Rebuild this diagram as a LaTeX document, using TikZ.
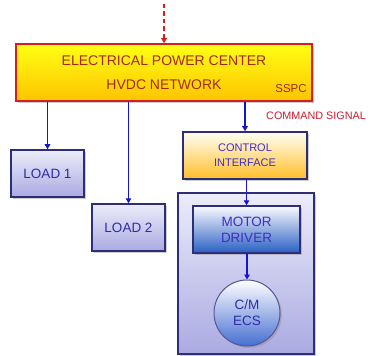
\documentclass[tikz,border=0pt]{standalone}
\usepackage{fontspec}
\setmainfont{Liberation Sans}
\usepackage{xcolor}
\usetikzlibrary{positioning,arrows.meta,shadows}

\definecolor{wireblue}{RGB}{20,20,210}
\definecolor{framenavy}{RGB}{45,45,120}
\definecolor{epcred}{RGB}{215,30,30}
\definecolor{epctext}{RGB}{165,40,30}
\definecolor{cmdred}{RGB}{200,30,50}
\definecolor{loadtext}{RGB}{45,45,165}
\definecolor{ctrltext}{RGB}{65,45,195}

\begin{document}
\begin{tikzpicture}[x=1pt, y=-1pt, every node/.style={align=center, inner sep=0pt},
  shade/.style={drop shadow={opacity=0.4, shadow xshift=1.8pt, shadow yshift=-1.8pt}},
  box/.style={draw=framenavy, line width=1.5pt, shade},
  lavender/.style={top color={rgb,255:red,236;green,236;blue,250}, bottom color={rgb,255:red,170;green,170;blue,226}},
  arr/.style={-{Triangle[length=5pt, width=5.5pt]}, wireblue, line width=1.4pt}]
\useasboundingbox (0,0) rectangle (371,355);
% power center
\node[draw=epcred, line width=1.5pt, shade, top color={rgb,255:red,255;green,255;blue,20}, bottom color={rgb,255:red,255;green,196;blue,0},
  minimum width=296pt, minimum height=57pt, font=\fontsize{14}{24}\selectfont, text=epctext] (epc) at (164,72.5)
  {ELECTRICAL POWER CENTER\\HVDC NETWORK};
\node[font=\fontsize{11.5}{12}\selectfont, text=epctext] (sspc) at (291,89) {SSPC};
\coordinate (src) at (164,4);
\draw[-{Triangle[length=5pt, width=5.5pt]}, epcred, line width=1.4pt, dash pattern=on 4.5pt off 3pt] (src) -- (epc.north);
% loads
\node[box, lavender, minimum width=73pt, minimum height=47pt, font=\fontsize{13.5}{14}\selectfont, text=loadtext] (load1) at (47.5,173.5) {LOAD 1};
\node[box, lavender, minimum width=73pt, minimum height=47pt, font=\fontsize{13.5}{14}\selectfont, text=loadtext] (load2) at (128.5,227.5) {LOAD 2};
% control chain
\node[box, top color={rgb,255:red,255;green,255;blue,245}, bottom color={rgb,255:red,255;green,190;blue,40},
  minimum width=124pt, minimum height=47pt, font=\fontsize{11}{15}\selectfont, text=ctrltext] (ctrl) at (245,155.5) {CONTROL\\INTERFACE};
\node[font=\fontsize{10.8}{12}\selectfont, text=cmdred, anchor=west] (cmd) at (266,116) {COMMAND SIGNAL};
\node[box, lavender, minimum width=136pt, minimum height=161pt] (ecu) at (246,273.5) {};
\node[box, top color={rgb,255:red,250;green,250;blue,255}, bottom color={rgb,255:red,40;green,95;blue,195},
  minimum width=107pt, minimum height=47pt, font=\fontsize{13.5}{16}\selectfont, text=ctrltext] (motor) at (246.5,229.5) {MOTOR\\DRIVER};
\node[circle, draw=framenavy!80, line width=1pt, shade, top color=white, bottom color={rgb,255:red,70;green,110;blue,210},
  minimum size=66pt, font=\fontsize{13.5}{16}\selectfont, text=loadtext] (cm) at (247,313) {C/M\\ECS};
% wiring
\draw[arr] (load1.north |- epc.south) -- (load1);
\draw[arr] (load2.north |- epc.south) -- (load2);
\draw[arr] (ctrl.north |- epc.south) -- (ctrl);
\draw[arr] (ctrl.south -| motor.north) -- (motor);
\draw[arr] (motor.south -| cm.north) -- (cm);
\end{tikzpicture}
\end{document}
